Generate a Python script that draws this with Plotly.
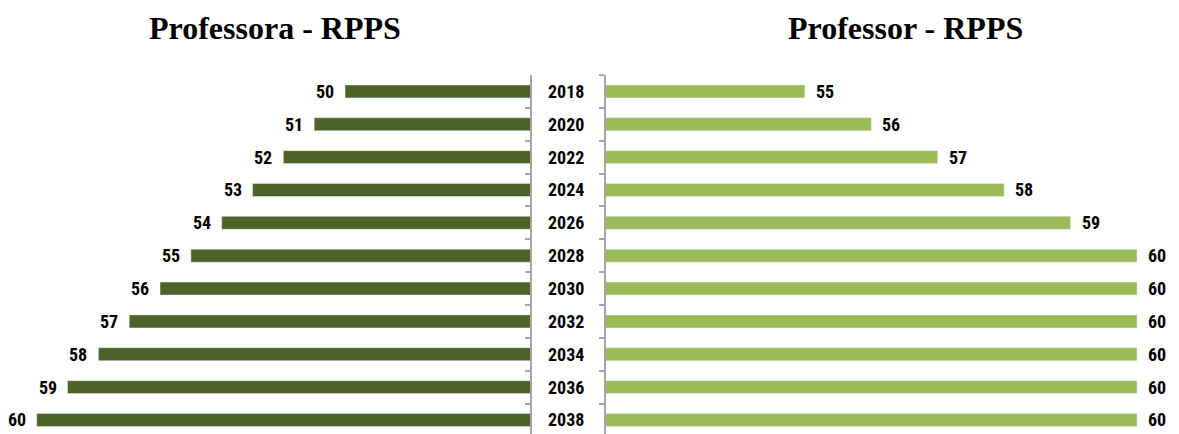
import plotly.graph_objects as go

years = ["2018", "2020", "2022", "2024", "2026", "2028", "2030", "2032", "2034", "2036", "2038"]
professora = [50, 51, 52, 53, 54, 55, 56, 57, 58, 59, 60]
professor = [55, 56, 57, 58, 59, 60, 60, 60, 60, 60, 60]

title_left = "Professora - RPPS"
title_right = "Professor - RPPS"

OFF = 8  # page body margin
W, H = 1179 - OFF, 434 - OFF
dark = "#4F6228"
light = "#9BBB59"
axis_gray = "#A6A6A6"
label_font = dict(family="Liberation Sans Narrow, Arial Narrow, Roboto Condensed, sans-serif",
                  size=18, color="#000000")

idx = list(range(len(years)))

fig = go.Figure()
fig.add_trace(go.Bar(y=idx, x=professora, orientation="h", marker_color=dark,
                     xaxis="x", yaxis="y", showlegend=False, hoverinfo="x"))
fig.add_trace(go.Bar(y=idx, x=professor, orientation="h", marker_color=light,
                     xaxis="x2", yaxis="y2", showlegend=False, hoverinfo="x"))

top_px = 74.5 - OFF
plot_h = H - top_px
pitch = 32.9

annotations = []
for i, v in zip(idx, professora):
    annotations.append(dict(x=v, y=i, xref="x", yref="y", text="<b>%d</b>" % v, showarrow=False,
                            xanchor="right", yanchor="middle", xshift=-9, font=label_font))
for i, v in zip(idx, professor):
    annotations.append(dict(x=v, y=i, xref="x2", yref="y2", text="<b>%d</b>" % v, showarrow=False,
                            xanchor="left", yanchor="middle", xshift=9, font=label_font))
for i, yr in zip(idx, years):
    annotations.append(dict(x=(566 - OFF) / W, y=i, xref="paper", yref="y", text="<b>%s</b>" % yr,
                            showarrow=False, xanchor="center", yanchor="middle", font=label_font))

title_font = dict(family="Liberation Serif, Times New Roman, serif", size=32, color="#000000")
title_y = 1 + (top_px - (27 - OFF)) / plot_h
annotations.append(dict(x=(275 - OFF) / W, y=title_y, xref="paper", yref="paper",
                        text="<b>%s</b>" % title_left, showarrow=False,
                        xanchor="center", yanchor="middle", font=title_font))
annotations.append(dict(x=(905 - OFF) / W, y=title_y, xref="paper", yref="paper",
                        text="<b>%s</b>" % title_right, showarrow=False,
                        xanchor="center", yanchor="middle", font=title_font))

yr_range = [-0.5 + plot_h / pitch, -0.5]
left_axis_px = 530 - OFF
right_axis_px = 605.5 - OFF

fig.update_layout(
    width=W, height=H,
    margin=dict(l=0, r=0, t=top_px, b=0, pad=0),
    paper_bgcolor="white", plot_bgcolor="white",
    bargap=0.605,
    annotations=annotations,
    xaxis=dict(domain=[0, left_axis_px / W], range=[44 + left_axis_px / 30.83, 44],
               visible=False, fixedrange=True),
    xaxis2=dict(domain=[right_axis_px / W, 1], range=[52, 52 + (W - right_axis_px) / 66.44],
                visible=False, fixedrange=True),
    yaxis=dict(anchor="x", side="right", range=yr_range, showticklabels=False,
               tickmode="linear", tick0=-0.5, dtick=1,
               showline=True, linecolor=axis_gray, linewidth=1.5, ticks="inside", ticklen=5,
               tickcolor=axis_gray, tickwidth=1.5, showgrid=False, zeroline=False),
    yaxis2=dict(anchor="x2", side="left", range=yr_range, showticklabels=False,
                tickmode="linear", tick0=-0.5, dtick=1,
                showline=True, linecolor=axis_gray, linewidth=1.5, ticks="outside", ticklen=5,
                tickcolor=axis_gray, tickwidth=1.5, showgrid=False, zeroline=False),
)

fig.write_html("out.html")
